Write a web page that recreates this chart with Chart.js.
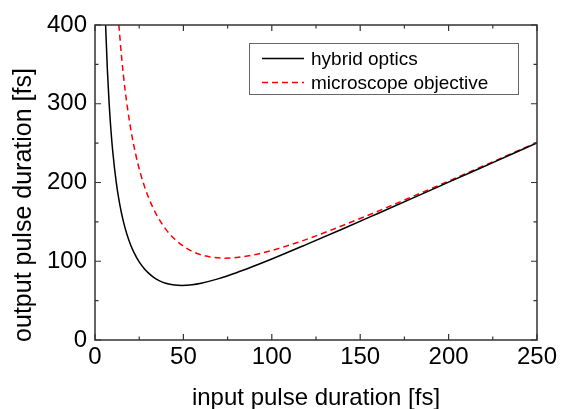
<!DOCTYPE html>
<html>
<head>
<meta charset="utf-8">
<script src="https://cdn.jsdelivr.net/npm/chart.js@4.4.1/dist/chart.umd.min.js"></script>
<style>
  html, body { margin: 0; padding: 0; background: #fff; }
  #wrap { width: 561px; height: 409px; }
</style>
</head>
<body>
<div id="wrap"><canvas id="pulseChart"></canvas></div>
<script>
// values (input duration -> output duration, fs)
const hybridIn = [6, 7, 8, 9, 10, 12, 14, 16, 18, 20, 22, 25, 28, 30, 33, 36, 40, 45, 49, 55, 60, 70, 80, 90, 100, 120, 140, 160, 180, 200, 225, 250];
const hybridOut = [400.2, 343.1, 300.2, 266.9, 240.3, 200.5, 172.1, 150.9, 134.6, 121.7, 111.3, 99.2, 90.2, 85.5, 79.9, 75.8, 72.1, 69.8, 69.3, 70.2, 72.1, 77.9, 85.4, 93.9, 102.8, 121.7, 141.0, 160.7, 180.5, 200.4, 225.3, 250.2];
const objIn = [13.5, 15, 17, 20, 23, 26, 30, 35, 40, 45, 50, 55, 60, 65, 73.5, 80, 90, 100, 115, 130, 150, 175, 200, 225, 250];
const objOut = [400.2, 360.3, 318.1, 270.7, 235.9, 209.3, 182.5, 158.2, 140.8, 128.2, 119.0, 112.5, 108.2, 105.5, 103.9, 104.7, 108.2, 113.6, 124.2, 136.5, 154.3, 177.7, 201.8, 226.3, 250.9];
const seriesNames = ['hybrid optics', 'microscope objective'];
const xTitle = 'input pulse duration [fs]';
const yTitle = 'output pulse duration [fs]';

const toPoints = (xs, ys) => xs.map((x, i) => ({x: x, y: ys[i]}));

const FONT = "'Liberation Sans', Arial, sans-serif";

// box frame, inward ticks on all four sides, titles and legend
const framePlugin = {
  id: 'frame',
  afterDraw(chart) {
    const ctx = chart.ctx;
    const a = chart.chartArea;
    const xs = chart.scales.x, ys = chart.scales.y;
    ctx.save();
    ctx.strokeStyle = '#333';
    ctx.lineWidth = 1.5;
    ctx.strokeRect(a.left, a.top, a.right - a.left, a.bottom - a.top);
    ctx.lineWidth = 1.2;
    ctx.beginPath();
    for (let v = 0; v <= 250; v += 25) {
      const p = xs.getPixelForValue(v);
      const len = v % 50 === 0 ? 6 : 3.5;
      ctx.moveTo(p, a.bottom); ctx.lineTo(p, a.bottom - len);
      ctx.moveTo(p, a.top); ctx.lineTo(p, a.top + len);
    }
    for (let v = 0; v <= 400; v += 50) {
      const p = ys.getPixelForValue(v);
      const len = v % 100 === 0 ? 6 : 3.5;
      ctx.moveTo(a.left, p); ctx.lineTo(a.left + len, p);
      ctx.moveTo(a.right, p); ctx.lineTo(a.right - len, p);
    }
    ctx.stroke();

    // axis titles
    ctx.fillStyle = '#000';
    ctx.font = '24px ' + FONT;
    ctx.textAlign = 'center';
    ctx.textBaseline = 'alphabetic';
    ctx.fillText(xTitle, (a.left + a.right) / 2, 405);
    ctx.save();
    ctx.font = '25px ' + FONT;
    ctx.translate(31, 205);
    ctx.rotate(-Math.PI / 2);
    ctx.fillText(yTitle, 0, 0);
    ctx.restore();

    // legend
    const lx = 249, ly = 43, lw = 269, lh = 51;
    ctx.fillStyle = '#fff';
    ctx.fillRect(lx, ly, lw, lh);
    ctx.strokeStyle = '#666';
    ctx.lineWidth = 1;
    ctx.strokeRect(lx + 0.5, ly + 0.5, lw, lh);
    const rows = [58.5, 82.5];
    chart.data.datasets.forEach((ds, i) => {
      ctx.strokeStyle = ds.borderColor;
      ctx.lineWidth = ds.borderWidth;
      ctx.setLineDash(ds.borderDash || []);
      ctx.beginPath();
      ctx.moveTo(262, rows[i]);
      ctx.lineTo(304, rows[i]);
      ctx.stroke();
      ctx.setLineDash([]);
      ctx.fillStyle = '#000';
      ctx.font = '19px ' + FONT;
      ctx.textAlign = 'left';
      ctx.textBaseline = 'middle';
      ctx.fillText(ds.label, 311, rows[i] + 1);
    });
    ctx.restore();
  }
};

new Chart(document.getElementById('pulseChart'), {
  type: 'line',
  data: {
    datasets: [{
      label: seriesNames[0],
      data: toPoints(hybridIn, hybridOut),
      borderColor: '#000',
      borderWidth: 1.5,
      pointRadius: 0,
      cubicInterpolationMode: 'monotone',
      fill: false
    }, {
      label: seriesNames[1],
      data: toPoints(objIn, objOut),
      borderColor: '#ff0000',
      borderWidth: 1.5,
      borderDash: [6, 4],
      pointRadius: 0,
      cubicInterpolationMode: 'monotone',
      fill: false
    }]
  },
  options: {
    responsive: true,
    maintainAspectRatio: false,
    animation: false,
    layout: { padding: { left: 0, top: 25, right: 24, bottom: 0 } },
    plugins: { legend: { display: false }, tooltip: { enabled: false } },
    scales: {
      x: {
        type: 'linear',
        min: 0, max: 250,
        ticks: { stepSize: 50, color: '#000', font: { size: 24, family: FONT }, padding: 3, maxRotation: 0 },
        grid: { display: false, drawTicks: false },
        border: { display: false },
        afterFit(scale) { scale.height = 69; }
      },
      y: {
        min: 0, max: 400,
        ticks: { stepSize: 100, color: '#000', font: { size: 24, family: FONT }, padding: 8 },
        grid: { display: false, drawTicks: false },
        border: { display: false },
        afterFit(scale) { scale.width = 95; }
      }
    }
  },
  plugins: [framePlugin]
});
</script>
</body>
</html>
